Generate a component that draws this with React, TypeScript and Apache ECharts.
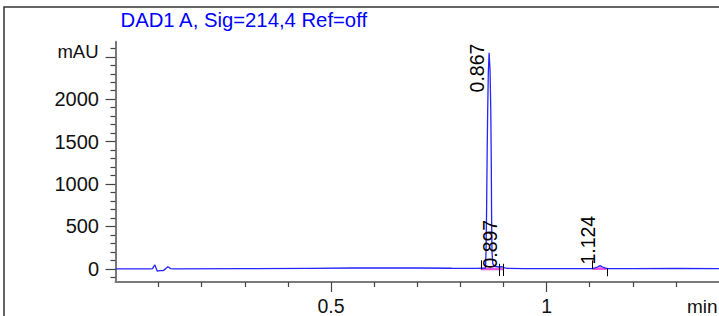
import React, { useEffect, useRef } from "react";
import * as echarts from "echarts";

// Chromatogram signal (retention time in min, absorbance in mAU)
const timeMin = [
  0.0, 0.08, 0.086, 0.0895, 0.0915, 0.094, 0.097, 0.103, 0.11, 0.116, 0.121, 0.124, 0.128, 0.135,
  0.3, 0.45, 0.55, 0.62, 0.7, 0.78, 0.84,
  0.8584, 0.8595, 0.8609, 0.862, 0.8632, 0.8648, 0.8667, 0.8688, 0.8706, 0.8718, 0.8725, 0.8734, 0.8752,
  0.88, 0.89, 0.897, 0.903, 0.91, 0.95, 1.0, 1.1,
  1.105, 1.112, 1.118, 1.124, 1.13, 1.136, 1.142, 1.2, 1.3, 1.4,
];
const signalMAU = [
  0, 0, 2, 35, 45, 10, -28, -20, -22, 0, 25, 18, 2, 0,
  2, 6, 10, 12, 10, 7, 6,
  10, 200, 700, 1290, 1800, 2300, 2548, 2350, 1870, 1200, 600, 200, 60,
  30, 22, 25, 12, 6, 3, 2, 2,
  3, 8, 22, 38, 22, 8, 3, 3, 4, 3,
];

// small integrated peak fill (1.124)
const fillTime = [1.108, 1.112, 1.118, 1.124, 1.13, 1.136, 1.139];
const fillMAU = [3, 8, 22, 38, 22, 8, 3];

// integration baselines
const baselineSegments = [
  [[0.8475, -3], [0.9, -3]],
  [[1.108, 1], [1.139, 1]],
];

// integration event markers: time, from, to (mAU)
const markerTime = [0.8475, 0.89, 0.8992, 1.105, 1.14];
const markerFrom = [100, 60, 60, 100, 5];
const markerTo = [-5, -85, -85, -5, -87];

// peak labels
const peakLabels = ["0.867", "0.897", "1.124"];
const peakTimes = [0.867, 0.897, 1.124];
const peakLabelBase = [2080, 3, 50];

const xMajorTicks = [0.5, 1];
const xMinorTicks = [0.1, 0.2, 0.3, 0.4, 0.6, 0.7, 0.8, 0.9, 1.1, 1.2, 1.3];
const yLabelValues = [0, 500, 1000, 1500, 2000];
const yMajorTicks = [0, 500, 1000, 1500, 2000, 2500];
const yMinorTicks = [
  -100, 100, 200, 300, 400, 600, 700, 800, 900, 1100, 1200, 1300, 1400, 1600, 1700, 1800, 1900,
  2100, 2200, 2300, 2400, 2600,
];

const titleText = "DAD1 A, Sig=214,4 Ref=off";
const yUnit = "mAU";
const xUnit = "min";

const FONT = "Arial, 'Liberation Sans', Helvetica, sans-serif";

export default function App() {
  const ref = useRef<HTMLDivElement>(null);
  useEffect(() => {
    if (!ref.current) return;
    const chart = echarts.init(ref.current, undefined, { renderer: "svg" });
    const sig = timeMin.map((t, i) => [t, signalMAU[i]]);
    const fill = fillTime.map((t, i) => [t, fillMAU[i]]);
    const X0 = 0, X1 = 1.4, Y0 = -155, Y1 = 2678;
    const axisLineStyle = { color: "#7a7a7a", width: 2 };
    const tickStyle = { color: "#444", width: 1.2 };
    chart.setOption({
      animation: false,
      backgroundColor: "#fff",
      grid: { left: 115.5, right: 0, top: 41.7, bottom: 33.5 },
      xAxis: [
        {
          type: "value", min: X0, max: X1,
          axisLine: { show: true, onZero: false, lineStyle: axisLineStyle },
          axisTick: { show: true, length: 10, customValues: xMajorTicks, lineStyle: tickStyle },
          axisLabel: {
            show: true, customValues: xMajorTicks, margin: 14,
            fontSize: 19.5, color: "#111", fontFamily: FONT,
            formatter: (v: number) => String(v),
          },
          splitLine: { show: false },
        },
        {
          type: "value", min: X0, max: X1, position: "bottom",
          axisLine: { show: false, onZero: false },
          axisTick: { show: true, length: 5, customValues: xMinorTicks, lineStyle: tickStyle },
          axisLabel: { show: false },
          splitLine: { show: false },
        },
      ],
      yAxis: [
        {
          type: "value", min: Y0, max: Y1,
          axisLine: { show: true, onZero: false, lineStyle: axisLineStyle },
          axisTick: { show: true, length: 10, customValues: yMajorTicks, lineStyle: tickStyle },
          axisLabel: {
            show: true, customValues: yLabelValues, margin: 16.5,
            fontSize: 20, color: "#111", fontFamily: FONT,
            formatter: (v: number) => String(v),
          },
          splitLine: { show: false },
        },
        {
          type: "value", min: Y0, max: Y1, position: "left",
          axisLine: { show: false, onZero: false },
          axisTick: { show: true, length: 5, customValues: yMinorTicks, lineStyle: tickStyle },
          axisLabel: { show: false },
          splitLine: { show: false },
        },
      ],
      series: [
        {
          type: "line", data: fill, xAxisIndex: 0, yAxisIndex: 0,
          showSymbol: false, symbol: "none",
          lineStyle: { width: 0 },
          areaStyle: { color: "rgba(240,80,220,0.55)", origin: 0 },
          silent: true, z: 1,
        },
        ...baselineSegments.map((seg) => ({
          type: "line", data: seg, xAxisIndex: 0, yAxisIndex: 0,
          showSymbol: false, symbol: "none",
          lineStyle: { width: 2.5, color: "rgba(235,60,220,0.85)" },
          silent: true, z: 2,
        })),
        {
          type: "line", data: sig, xAxisIndex: 0, yAxisIndex: 0,
          showSymbol: false, symbol: "none",
          lineStyle: { width: 1.3, color: "#2424ff" },
          silent: true, z: 3,
          markLine: {
            silent: true, symbol: ["none", "none"],
            label: { show: false },
            lineStyle: { color: "#000", width: 1, type: "solid" },
            data: markerTime.map((t, i) => [
              { coord: [t, markerFrom[i]] },
              { coord: [t, markerTo[i]] },
            ]),
          },
        },
      ],
    });

    const graphics: any[] = [
      {
        type: "rect", shape: { x: 4, y: 7, width: 2000, height: 2000 },
        style: { fill: "rgba(0,0,0,0)", stroke: "#333", lineWidth: 1.5 }, silent: true,
      },
      {
        type: "text", x: 120.5, y: 19.5,
        style: { text: titleText, fill: "#0000ff", font: `20.3px ${FONT}`, verticalAlign: "middle", align: "left" },
      },
    ];
    const unitPos = chart.convertToPixel({ gridIndex: 0 } as any, [0, 2500]) as number[];
    graphics.push({
      type: "text", x: unitPos[0] - 17, y: unitPos[1] + 4,
      style: { text: yUnit, fill: "#111", font: `18.5px ${FONT}`, align: "right", verticalAlign: "bottom" },
    });
    graphics.push({
      type: "text", x: 687, y: 306.7,
      style: { text: xUnit, fill: "#111", font: `19px ${FONT}`, align: "left", verticalAlign: "middle" },
    });
    peakLabels.forEach((lab, i) => {
      const p = chart.convertToPixel({ gridIndex: 0 } as any, [peakTimes[i], peakLabelBase[i]]) as number[];
      graphics.push({
        type: "text", x: p[0] - 12, y: p[1], rotation: Math.PI / 2,
        style: { text: lab, fill: "#000", font: `19.5px ${FONT}`, align: "left", verticalAlign: "middle" },
        z: 10,
      });
    });
    chart.setOption({ graphic: graphics });
    return () => chart.dispose();
  }, []);
  return (
    <div
      ref={ref}
      style={{ position: "absolute", left: 0, top: 0, width: 719, height: 316, background: "#fff" }}
    />
  );
}
